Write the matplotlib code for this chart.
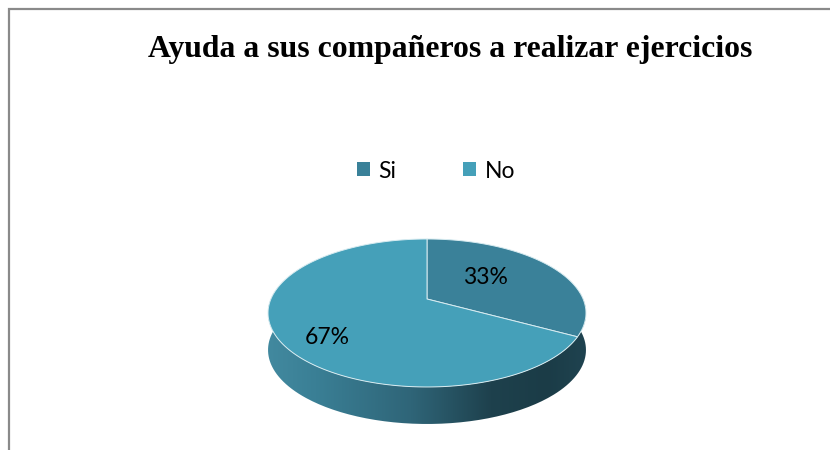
import numpy as np
import matplotlib
matplotlib.use("Agg")
import matplotlib.pyplot as plt
from matplotlib.colors import LinearSegmentedColormap
from matplotlib.patches import Patch, Polygon, PathPatch
from matplotlib.path import Path

title = "Ayuda a sus compañeros a realizar ejercicios"
categories = ["Si", "No"]
values = [33, 67]
colors = ["#3a8199", "#45a0b9"]

APEX = (427.0, 299.0)
A, B, K = 156.1, 71.35, 0.189
DEPTH = 37.0


def project(theta):
    """Clockwise angle from 12 o'clock on the pie -> figure pixels, with perspective."""
    u, v = np.sin(theta), np.cos(theta)
    w = 1 + K * v
    return APEX[0] + A * u / w, APEX[1] - B * v / w


fig = plt.figure(figsize=(8.3, 4.5), dpi=100, facecolor="white")
ax = fig.add_axes([0, 0, 1, 1])
ax.set_xlim(0, 830)
ax.set_ylim(450, 0)
ax.axis("off")

# frame
ax.plot([8.5, 8.5, 830], [450, 9, 9], color="#8a8a8a", lw=1.6, solid_joinstyle="miter")

# side wall with gradient
t = np.linspace(np.pi * 0.47, np.pi * 1.53, 200)
sx, sy = project(t)
wall = np.column_stack([np.r_[sx, sx[::-1]], np.r_[sy, sy[::-1] + DEPTH]])
cmap = LinearSegmentedColormap.from_list(
    "wall",
    [(0.0, "#1f4350"), (0.12, "#1b3c47"), (0.30, "#1e414d"),
     (0.55, "#2f6578"), (0.85, "#3a7f95"), (1.0, "#42899f")],
)
# colormap runs right to left
x0, x1 = sx.min(), sx.max()
img = ax.imshow(np.linspace(1, 0, 256)[None, :], cmap=cmap, vmin=0, vmax=1, aspect="auto",
                extent=(x0, x1, 450, 280), zorder=2)
clip = PathPatch(Path(wall), transform=ax.transData, fc="none", ec="none")
ax.add_patch(clip)
img.set_clip_path(clip)
ax.set_xlim(0, 830)
ax.set_ylim(450, 0)

# top surface slices, clockwise from 12 o'clock
angles = np.cumsum([0] + values) / sum(values) * 2 * np.pi
for i, c in enumerate(colors):
    th = np.linspace(angles[i], angles[i + 1], 240)
    px, py = project(th)
    pts = np.column_stack([np.r_[APEX[0], px], np.r_[APEX[1], py]])
    ax.add_patch(Polygon(pts, closed=True, fc=c, ec="#d8ecf1", lw=0.7, zorder=3, joinstyle="round"))

# value labels
label_xy = [(485, 277), (327, 337)]
for (lx, ly), v in zip(label_xy, values):
    ax.text(lx, ly, f"{v}%", ha="center", va="center", fontsize=16.5,
            family="Lato", color="black", zorder=5)

# title
ax.text(450.5, 49, title, ha="center", va="center", fontsize=22.9, fontweight="bold",
        family="Liberation Serif", color="black")

# legend
handles = [Patch(fc=c, ec="none") for c in colors]
ax.legend(handles, categories, loc="center", bbox_to_anchor=(436 / 830, 1 - 171 / 450),
          ncols=2, frameon=False, prop={"family": "Lato", "size": 16.5},
          handlelength=0.57, handleheight=0.57, handletextpad=0.38, columnspacing=2.9,
          borderpad=0, borderaxespad=0)

fig.savefig("out.png", dpi=100)
